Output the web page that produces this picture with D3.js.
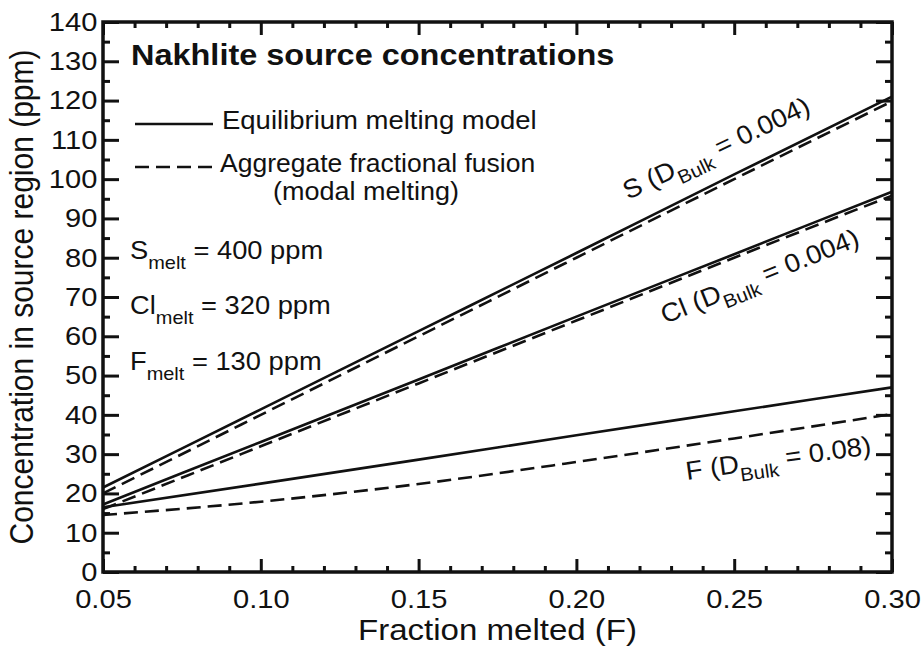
<!DOCTYPE html>
<html>
<head>
<meta charset="utf-8">
<script src="https://cdn.jsdelivr.net/npm/d3@7"></script>
<style>
  body { margin: 0; background: #fff; }
  svg text { font-family: "Liberation Sans", Arial, Helvetica, sans-serif; fill: #111; }
</style>
</head>
<body>
<svg id="chart" width="921" height="649"></svg>
<script>
var fracMelted = [0.05, 0.10, 0.15, 0.20, 0.25, 0.30];

// equilibrium melting model (solid)
var sEquil  = [21.5, 41.4, 61.3, 81.2, 101.2, 121.0];
var clEquil = [17.2, 33.1, 49.0, 65.0, 80.9, 96.8];
var fEquil  = [16.5, 22.5, 28.6, 34.8, 40.9, 47.0];

// aggregate fractional fusion, modal melting (dashed)
var sAggr  = [20.0, 40.0, 60.0, 80.0, 100.0, 119.8];
var clAggr = [16.0, 32.0, 48.0, 64.0, 80.0, 95.8];
var fAggr  = [14.5, 17.9, 22.4, 28.0, 34.0, 40.2];

var xMajor = [0.05, 0.10, 0.15, 0.20, 0.25, 0.30];
var yMajor = [0, 10, 20, 30, 40, 50, 60, 70, 80, 90, 100, 110, 120, 130, 140];

var svg = d3.select('#chart');
var pLeft = 103, pRight = 892, pTop = 22, pBottom = 572;

var x = d3.scaleLinear().domain([0.05, 0.30]).range([pLeft, pRight]);
var y = d3.scaleLinear().domain([0, 140]).range([pBottom, pTop]);

// minor tick positions
var xMinor = d3.range(5, 31).map(function (d) { return d / 100; }).filter(function (d) { return Math.round(d * 100) % 5 !== 0; });
var yMinor = d3.range(5, 140, 10);

function styleAxis(g) {
  g.select('.domain').remove();
  g.attr('font-family', null).attr('font-size', '26px');
  g.selectAll('line').attr('stroke', '#111').attr('stroke-width', 3);
  g.selectAll('text').attr('fill', '#111').attr('transform', 'scale(1.12,1)');
}

// bottom axis with labels
svg.append('g')
  .attr('transform', 'translate(0,' + pBottom + ')')
  .call(d3.axisBottom(x).tickValues(xMajor).tickSize(-13).tickPadding(18).tickFormat(d3.format('.2f')))
  .call(styleAxis);
svg.append('g')
  .attr('transform', 'translate(0,' + pBottom + ')')
  .call(d3.axisBottom(x).tickValues(xMinor).tickSize(-6).tickFormat(''))
  .call(styleAxis);
// top axis, ticks only
svg.append('g')
  .attr('transform', 'translate(0,' + pTop + ')')
  .call(d3.axisTop(x).tickValues(xMajor).tickSize(-13).tickFormat(''))
  .call(styleAxis);
svg.append('g')
  .attr('transform', 'translate(0,' + pTop + ')')
  .call(d3.axisTop(x).tickValues(xMinor).tickSize(-6).tickFormat(''))
  .call(styleAxis);

// left axis with labels
svg.append('g')
  .attr('transform', 'translate(' + pLeft + ',0)')
  .call(d3.axisLeft(y).tickValues(yMajor).tickSize(-16).tickPadding(5))
  .call(styleAxis);
svg.append('g')
  .attr('transform', 'translate(' + pLeft + ',0)')
  .call(d3.axisLeft(y).tickValues(yMinor).tickSize(-7).tickFormat(''))
  .call(styleAxis);
// right axis, ticks only
svg.append('g')
  .attr('transform', 'translate(' + pRight + ',0)')
  .call(d3.axisRight(y).tickValues(yMajor).tickSize(-16).tickFormat(''))
  .call(styleAxis);
svg.append('g')
  .attr('transform', 'translate(' + pRight + ',0)')
  .call(d3.axisRight(y).tickValues(yMinor).tickSize(-7).tickFormat(''))
  .call(styleAxis);

// frame
svg.append('rect')
  .attr('x', pLeft).attr('y', pTop)
  .attr('width', pRight - pLeft).attr('height', pBottom - pTop)
  .attr('fill', 'none').attr('stroke', '#111').attr('stroke-width', 3.5);

// curves
var line = d3.line()
  .x(function (d) { return x(d[0]); })
  .y(function (d) { return y(d[1]); })
  .curve(d3.curveMonotoneX);

var series = [
  { values: sEquil, dashed: false },
  { values: clEquil, dashed: false },
  { values: fEquil, dashed: false },
  { values: sAggr, dashed: true },
  { values: clAggr, dashed: true },
  { values: fAggr, dashed: true }
];

series.forEach(function (s) {
  svg.append('path')
    .datum(d3.zip(fracMelted, s.values))
    .attr('d', line)
    .attr('fill', 'none')
    .attr('stroke', '#111')
    .attr('stroke-width', 2.6)
    .attr('stroke-dasharray', s.dashed ? '14,7' : null);
});

// horizontally widened text, like the original figure
function wideText(px, py, sx, size) {
  return svg.append('text')
    .attr('transform', 'translate(' + px + ',' + py + ') scale(' + sx + ',1)')
    .attr('font-size', size + 'px');
}

// title
wideText(131, 65, 1.12, 29).attr('font-weight', 'bold')
  .text('Nakhlite source concentrations');

// legend
svg.append('line')
  .attr('x1', 135).attr('x2', 213).attr('y1', 124).attr('y2', 124)
  .attr('stroke', '#111').attr('stroke-width', 2.6);
wideText(222, 129, 1.1, 25).text('Equilibrium melting model');
svg.append('line')
  .attr('x1', 135).attr('x2', 213).attr('y1', 167).attr('y2', 167)
  .attr('stroke', '#111').attr('stroke-width', 2.6)
  .attr('stroke-dasharray', '14,7');
wideText(220, 172, 1.06, 25).text('Aggregate fractional fusion');
wideText(273, 200, 1.08, 25).text('(modal melting)');

// melt concentrations
var meltNotes = [
  { el: 'S', rest: ' = 400 ppm', yy: 259 },
  { el: 'Cl', rest: ' = 320 ppm', yy: 314 },
  { el: 'F', rest: ' = 130 ppm', yy: 370 }
];
meltNotes.forEach(function (m) {
  var t = wideText(130, m.yy, 1.05, 26);
  t.append('tspan').text(m.el);
  t.append('tspan').attr('font-size', '19px').attr('dy', 10).text('melt');
  t.append('tspan').attr('dy', -10).text(m.rest);
});

// curve labels
var curveLabels = [
  { el: 'S', val: '0.004', lx: 628, ly: 200, angle: -25.5 },
  { el: 'Cl', val: '0.004', lx: 665, ly: 324, angle: -22 },
  { el: 'F', val: '0.08', lx: 687, ly: 480, angle: -8 }
];
curveLabels.forEach(function (c) {
  var t = svg.append('text')
    .attr('transform', 'translate(' + c.lx + ',' + c.ly + ') rotate(' + c.angle + ') scale(1.06,1)')
    .attr('font-size', '26px');
  t.append('tspan').text(c.el + ' (D');
  t.append('tspan').attr('font-size', '19px').attr('dy', 9).text('Bulk');
  t.append('tspan').attr('dy', -9).text(' = ' + c.val + ')');
});

// axis titles
wideText((pLeft + pRight) / 2, 640, 1.14, 29)
  .attr('text-anchor', 'middle')
  .text('Fraction melted (F)');
svg.append('text')
  .attr('transform', 'translate(33,' + (pTop + pBottom) / 2 + ') scale(1.1,1) rotate(-90)')
  .attr('text-anchor', 'middle').attr('font-size', '30px')
  .text('Concentration in source region (ppm)');
</script>
</body>
</html>
